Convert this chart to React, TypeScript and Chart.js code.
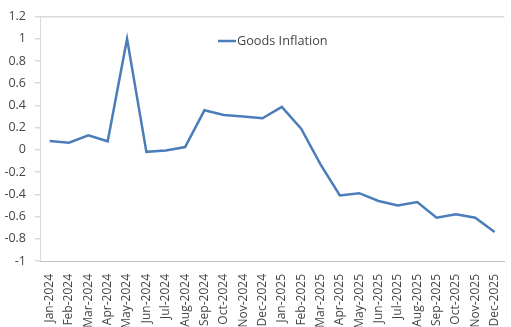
import React, { useEffect, useRef } from "react";
import { Chart, registerables } from "chart.js";

Chart.register(...registerables);

const categories = [
  "Jan-2024", "Feb-2024", "Mar-2024", "Apr-2024", "May-2024", "Jun-2024",
  "Jul-2024", "Aug-2024", "Sep-2024", "Oct-2024", "Nov-2024", "Dec-2024",
  "Jan-2025", "Feb-2025", "Mar-2025", "Apr-2025", "May-2025", "Jun-2025",
  "Jul-2025", "Aug-2025", "Sep-2025", "Oct-2025", "Nov-2025", "Dec-2025",
];
const goodsInflation = [
  0.08, 0.065, 0.13, 0.077, 1.0, -0.018,
  -0.005, 0.025, 0.356, 0.314, 0.30, 0.284,
  0.386, 0.19, -0.13, -0.41, -0.39, -0.46,
  -0.50, -0.47, -0.61, -0.58, -0.61, -0.74,
];
const seriesLabel = "Goods Inflation";
const yMin = -1;
const yMax = 1.2;
const yStep = 0.2;

const FONT = "'Open Sans', 'Noto Sans', sans-serif";
const TEXT = "#454545";
const LINE = "#4a7dba";

const legendPlugin = {
  id: "customLegend",
  afterDraw(chart: any) {
    const ctx = chart.ctx;
    const ds = chart.data.datasets[0];
    const y = 41;
    ctx.save();
    ctx.strokeStyle = ds.borderColor;
    ctx.lineWidth = 2.5;
    ctx.beginPath();
    ctx.moveTo(218, y);
    ctx.lineTo(236, y);
    ctx.stroke();
    ctx.fillStyle = TEXT;
    ctx.font = `12.7px ${FONT}`;
    ctx.textBaseline = "middle";
    ctx.textAlign = "left";
    ctx.fillText(ds.label, 237, y);
    ctx.restore();
  },
};

export default function App() {
  const ref = useRef<HTMLCanvasElement>(null);
  useEffect(() => {
    document.body.style.overflow = "hidden";
    const chart = new Chart(ref.current!, {
      type: "line",
      data: {
        labels: categories,
        datasets: [
          {
            label: seriesLabel,
            data: goodsInflation,
            borderColor: LINE,
            backgroundColor: LINE,
            borderWidth: 2.5,
            pointRadius: 0,
            tension: 0,
          },
        ],
      },
      options: {
        animation: false,
        responsive: false,
        maintainAspectRatio: false,
        layout: { padding: { top: 15, right: 0, left: 0, bottom: 0 } },
        plugins: { legend: { display: false }, tooltip: { enabled: false } },
        scales: {
          x: {
            type: "category",
            offset: true,
            grid: { display: false },
            border: { display: true, color: "#bfbfbf", width: 1 },
            ticks: {
              autoSkip: false,
              maxRotation: 90,
              minRotation: 90,
              padding: 5,
              color: TEXT,
              font: { family: FONT, size: 12 },
            },
            afterFit(scale: any) {
              scale.height = 66;
            },
          },
          y: {
            min: yMin,
            max: yMax,
            ticks: {
              stepSize: yStep,
              padding: 9,
              color: TEXT,
              font: { family: FONT, size: 12.5 },
              callback: (v: any) => String(Number(Number(v).toFixed(1))),
            },
            grid: {
              drawTicks: true,
              tickLength: 5,
              tickColor: "#d9d9d9",
              color: (c: any) =>
                c.tick && Math.abs(c.tick.value - yMax) < 1e-6 ? "#d9d9d9" : "rgba(0,0,0,0)",
              lineWidth: 1.5,
            },
            border: { display: true, color: "#d9d9d9", width: 1 },
            afterFit(scale: any) {
              scale.width = 40;
            },
          },
        },
      },
      plugins: [legendPlugin],
    });
    return () => chart.destroy();
  }, []);
  return (
    <div style={{ position: "fixed", left: 0, top: 0, width: 514, height: 327 }}>
      <canvas ref={ref} width={514} height={327} style={{ display: "block" }} />
    </div>
  );
}
